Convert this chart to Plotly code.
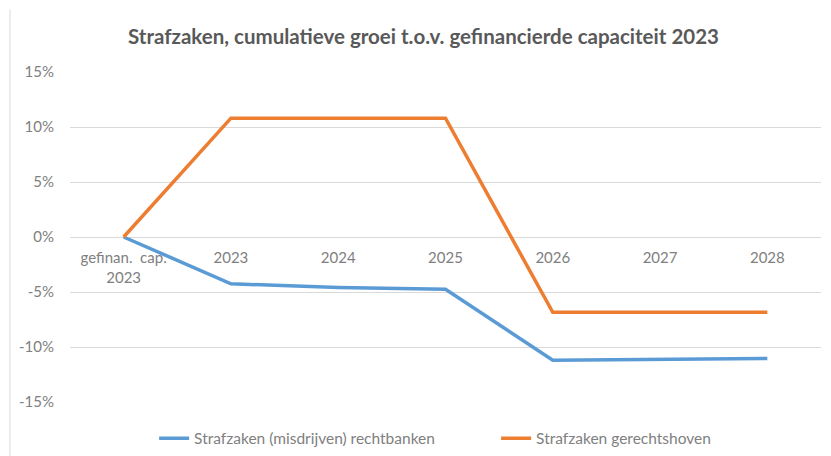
import plotly.graph_objects as go

categories = ["gefinan.  cap.<br>2023", "2023", "2024", "2025", "2026", "2027", "2028"]
rechtbanken = [0.0, -4.25, -4.6, -4.75, -11.2, -11.1, -11.05]
gerechtshoven = [0.0, 10.8, 10.8, 10.8, -6.85, -6.85, -6.85]
y_ticks = [-15, -10, -5, 0, 5, 10, 15]
y_tick_labels = [f"{v}%" for v in y_ticks]

series_names = ["Strafzaken (misdrijven) rechtbanken", "Strafzaken gerechtshoven"]
series_colors = ["#5B9BD5", "#ED7D31"]

font_family = "Lato, 'Open Sans', sans-serif"
grey = "#808080"

fig = go.Figure()
for name, vals, col in zip(series_names, [rechtbanken, gerechtshoven], series_colors):
    fig.add_trace(go.Scatter(
        x=categories, y=vals, mode="lines", name=name,
        line=dict(color=col, width=3.5),
    ))

fig.update_layout(
    width=831, height=456,
    paper_bgcolor="white", plot_bgcolor="white",
    margin=dict(l=62, r=18, t=64, b=62, autoexpand=False),
    title=dict(
        text="<b>Strafzaken, cumulatieve groei t.o.v. gefinancierde capaciteit 2023</b>",
        x=0.5, xanchor="center", y=0.937, yanchor="middle",
        font=dict(family=font_family, size=20.5, color="#595959"),
    ),
    font=dict(family=font_family, size=15, color=grey),
    legend=dict(
        orientation="h", x=0.112, xanchor="left", y=-0.06, yanchor="top",
        font=dict(size=15.5, color=grey), entrywidth=297, tracegroupgap=0,
    ),
    xaxis=dict(
        type="category", anchor="free", position=0.5, automargin=False,
        showgrid=False, showline=False, zeroline=False,
        ticks="", tickfont=dict(size=15, color=grey), ticklabelstandoff=10,
        range=[-0.5, len(categories) - 0.5],
    ),
    yaxis=dict(
        range=[-15, 15], tickvals=y_ticks, ticktext=y_tick_labels, automargin=False,
        showgrid=True, gridcolor="#D9D9D9", gridwidth=1,
        zeroline=True, zerolinecolor="#D9D9D9", zerolinewidth=1,
        showline=False, ticks="", ticklabelstandoff=15,
        tickfont=dict(size=15, color=grey),
    ),
    shapes=[dict(
        type="line", xref="paper", yref="paper",
        x0=-0.08, x1=-0.08, y0=1.19, y1=-0.2,
        line=dict(color="#E6E6E6", width=1.5),
    )],
)

fig.write_html("out.html")
